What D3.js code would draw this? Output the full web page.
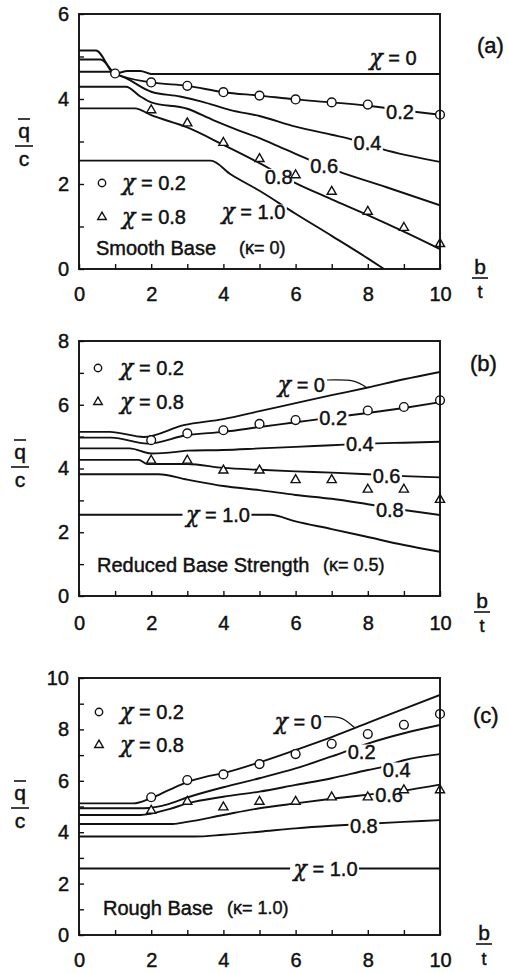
<!DOCTYPE html>
<html><head><meta charset="utf-8">
<script src="https://cdn.jsdelivr.net/npm/d3@7"></script>
<style>
body{margin:0;background:#fff}
svg text{font-family:"Liberation Sans",Arial,Helvetica,sans-serif;fill:#111;stroke:#111;stroke-width:0.45px;}
svg tspan.chi{font-family:"DejaVu Serif",serif;font-style:italic;}
</style>
</head><body><svg id="chart" width="508" height="973"></svg>
<script>
// ---------------- data ----------------
const xTickValues = [0,1,2,3,4,5,6,7,8,9,10];
const xTickLabels = [0,2,4,6,8,10];
const yTicksA = [0,1,2,3,4,5,6];
const yTicksB = [0,1,2,3,4,5,6,7,8];
const yTicksC = [0,1,2,3,4,5,6,7,8,9,10];
const chiNames = ["0","0.2","0.4","0.6","0.8","1.0"];

// (a) Smooth base (kappa = 0)
const aChi0  = [[0,5.14],[0.47,5.14],[1.0,4.6],[1.35,4.66],[1.7,4.66],[2.0,4.59],[10,4.59]];
const aChi02 = [[0,4.93],[0.6,4.93],[1.0,4.6],[2,4.39],[3,4.31],[4,4.16],[5,4.08],[6,3.99],[7,3.92],[8,3.84],[9,3.73],[10,3.63]];
const aChi04 = [[0,4.64],[0.9,4.64],[1.0,4.6],[1.3,4.49],[2,4.17],[2.8,4.06],[3.4,3.94],[4.2,3.74],[5,3.6],[6,3.35],[7,3.16],[7.6,3.04],[8.4,2.82],[10,2.52]];
const aChi06 = [[0,4.29],[1.3,4.29],[1.7,4.06],[2,3.92],[3,3.77],[3.7,3.51],[4.4,3.27],[5,3.08],[5.7,2.82],[7.2,2.29],[8.5,1.93],[10,1.5]];
const aChi08 = [[0,3.78],[1.55,3.78],[2,3.62],[3,3.33],[4,2.92],[5,2.49],[6,2.02],[7,1.64],[8,1.27],[9,0.88],[10,0.47]];
const aChi10 = [[0,2.55],[3.65,2.55],[4.2,2.23],[5,1.84],[6,1.3],[7,0.78],[8,0.25],[8.45,0]];
const aCircleX = [1,2,3,4,5,6,7,8,10];
const aCircleY = [4.6,4.39,4.31,4.16,4.08,3.99,3.92,3.87,3.63];
const aTriX = [2,3,4,5,6,7,8,9,10];
const aTriY = [3.74,3.43,2.97,2.59,2.21,1.82,1.35,0.97,0.59];

// (b) Reduced base strength (kappa = 0.5)
const bChi0  = [[0,5.15],[0.85,5.15],[1.8,4.99],[2.9,5.36],[4,5.55],[5,5.8],[6,6.05],[7,6.3],[8,6.54],[9,6.8],[10,7.03]];
const bChi02 = [[0,4.97],[0.9,4.97],[1.9,4.78],[3,5.05],[4,5.15],[5,5.3],[6,5.45],[7,5.6],[8,5.74],[9,5.9],[10,6.08]];
const bChi04 = [[0,4.63],[1.4,4.63],[2,4.47],[2.7,4.52],[3,4.56],[4,4.58],[5,4.63],[6,4.68],[7,4.73],[8,4.78],[9,4.81],[10,4.84]];
const bChi06 = [[0,4.27],[1.65,4.27],[1.9,4.14],[3,4.14],[4,4.02],[5,3.96],[6,3.91],[7,3.87],[8,3.82],[9,3.76],[10,3.72]];
const bChi08 = [[0,3.82],[2.2,3.82],[3,3.65],[4,3.45],[5,3.32],[6,3.17],[7,3.05],[8,2.88],[9,2.7],[10,2.54]];
const bChi10 = [[0,2.55],[5.3,2.55],[6,2.34],[7,2.1],[8,1.85],[9,1.6],[10,1.39]];
const bCircleX = [2,3,4,5,6,8,9,10];
const bCircleY = [4.89,5.1,5.2,5.4,5.52,5.82,5.93,6.14];
const bTriX = [2,3,4,5,6,7,8,9,10];
const bTriY = [4.25,4.25,3.94,3.94,3.64,3.64,3.34,3.34,3.02];

// (c) Rough base (kappa = 1.0)
const cChi0  = [[0,5.12],[1.5,5.12],[2,5.33],[2.5,5.65],[3,5.95],[3.5,6.15],[4,6.3],[5,6.72],[6,7.2],[7,7.7],[8,8.25],[9,8.8],[10,9.34]];
const cChi02 = [[0,4.93],[1.8,4.93],[2.5,5.1],[3,5.35],[4,5.75],[5,6.1],[6,6.48],[7,6.95],[8,7.45],[9,7.85],[10,8.17]];
const cChi04 = [[0,4.67],[1.7,4.67],[2.5,4.9],[3,5.12],[4,5.38],[5,5.58],[6,5.84],[7,6.1],[8,6.42],[8.45,6.55],[9,6.8],[10,7.04]];
const cChi06 = [[0,4.32],[2.6,4.32],[3,4.4],[4,4.67],[5,4.93],[6,5.12],[7,5.3],[8,5.46],[9,5.62],[10,5.85]];
const cChi08 = [[0,3.83],[3.2,3.83],[4,3.9],[5,4.02],[6,4.15],[7,4.25],[8,4.33],[9,4.4],[10,4.47]];
const cChi10 = [[0,2.59],[10,2.59]];
const cCircleX = [2,3,4,5,6,7,8,9,10];
const cCircleY = [5.36,6.03,6.25,6.65,7.04,7.44,7.82,8.18,8.6];
const cTriX = [2,3,4,5,6,7,8,9,10];
const cTriY = [4.84,5.19,4.97,5.19,5.19,5.36,5.36,5.64,5.64];

// ---------------- layout ----------------
const X0 = 79, X1 = 440;
const FS = 20;
const panels = [
  {letter:"(a)", top:14, bottom:269, ymax:6, yTicks:yTicksA,
   curves:[aChi0,aChi02,aChi04,aChi06,aChi08,aChi10],
   cx:aCircleX, cy:aCircleY, tx:aTriX, ty:aTriY,
   labels:[[0,8.7,4.96,false],[1,8.89,3.7,true],[2,7.99,2.96,true],[3,6.79,2.42,true],[4,5.53,2.18,true],[5,4.83,1.34,true]],
   leader:null, title:"Smooth Base", kappa:"(κ= 0)", titleX:96, kappaX:239, titleDY:234,
   legX:102, legTX:122, legDY1:169, legDY2:203, tickPad:18,
   letterX:477, letterY:45, qx:24, qbar:146, bx:480, bBase:274, bBar:278, tBase:298},
  {letter:"(b)", top:341, bottom:596, ymax:8, yTicks:yTicksB,
   curves:[bChi0,bChi02,bChi04,bChi06,bChi08,bChi10],
   cx:bCircleX, cy:bCircleY, tx:bTriX, ty:bTriY,
   labels:[[0,6.16,6.62,false],[1,7.04,5.58,true],[2,7.78,4.77,true],[3,8.52,3.77,true],[4,8.61,2.7,true],[5,3.85,2.55,true]],
   leader:[0,7.97], title:"Reduced Base Strength", kappa:"(κ= 0.5)", titleX:97, kappaX:323, titleDY:224,
   legX:98, legTX:120, legDY1:27, legDY2:61, tickPad:20,
   letterX:470, letterY:363, qx:20, qbar:467, bx:482, bBase:608, bBar:612, tBase:632},
  {letter:"(c)", top:678, bottom:935, ymax:10, yTicks:yTicksC,
   curves:[cChi0,cChi02,cChi04,cChi06,cChi08,cChi10],
   cx:cCircleX, cy:cCircleY, tx:cTriX, ty:cTriY,
   labels:[[0,6.07,8.3,false],[1,7.83,7.12,true],[2,8.8,6.42,true],[3,8.59,5.47,true],[4,7.89,4.23,true],[5,6.83,2.59,true]],
   leader:[0,7.65], title:"Rough Base", kappa:"(κ= 1.0)", titleX:103, kappaX:227, titleDY:230,
   legX:99, legTX:120, legDY1:34, legDY2:67, tickPad:18,
   letterX:473, letterY:715, qx:20, qbar:808, bx:484, bBase:940, bBar:944, tBase:965}
];

const svg = d3.select("#chart");
const x = d3.scaleLinear().domain([0,10]).range([X0,X1]);
const tri = d3.symbol().type(d3.symbolTriangle).size(36);

function interp(curve, xv){
  for(let i=1;i<curve.length;i++){
    if(xv<=curve[i][0]){
      const [x0,y0]=curve[i-1],[x1,y1]=curve[i];
      return y0+(y1-y0)*(xv-x0)/(x1-x0);
    }
  }
  return curve[curve.length-1][1];
}

// text with a chi glyph: "χ = value"
function chiText(sel, value){
  sel.append("tspan").attr("class","chi").attr("font-size",FS+2).text("χ");
  sel.append("tspan").text(" = "+value);
  return sel;
}

panels.forEach((p,pi)=>{
  const y = d3.scaleLinear().domain([0,p.ymax]).range([p.bottom,p.top]);
  const g = svg.append("g");
  const clipId = "clip"+pi;
  svg.append("clipPath").attr("id",clipId).append("rect")
    .attr("x",X0).attr("y",p.top).attr("width",X1-X0).attr("height",p.bottom-p.top);

  // axes (ticks inward)
  const xa = d3.axisBottom(x).tickValues(xTickValues).tickSizeInner(-5).tickSizeOuter(0)
    .tickPadding(p.tickPad).tickFormat(d=>xTickLabels.includes(d)?d:"");
  const gx = g.append("g").attr("transform",`translate(0,${p.bottom})`).call(xa);
  const ya = d3.axisLeft(y).tickValues(p.yTicks).tickSizeInner(-5).tickSizeOuter(0)
    .tickPadding(10).tickFormat(d=>d%2===0?d:"");
  const gy = g.append("g").attr("transform",`translate(${X0},0)`).call(ya);
  [gx,gy].forEach(a=>{
    a.select(".domain").remove();
    a.selectAll(".tick line").attr("stroke","#111").attr("stroke-width",1.4);
    a.selectAll(".tick text").attr("font-size",FS).attr("fill","#111")
      .style("font-family",'"Liberation Sans",Arial,sans-serif');
  });

  // curves
  const line = d3.line().x(d=>x(d[0])).y(d=>y(d[1])).curve(d3.curveMonotoneX);
  const cg = g.append("g").attr("clip-path",`url(#${clipId})`);
  p.curves.forEach(c=>{
    cg.append("path").attr("d",line(c)).attr("fill","none")
      .attr("stroke","#111").attr("stroke-width",1.9);
  });

  // inline labels
  p.labels.forEach(([ci,lx,ly,bg])=>{
    const t = g.append("text").attr("x",x(lx)).attr("y",y(ly)).attr("dy","0.36em")
      .attr("text-anchor","middle").attr("font-size",FS);
    if(ci===0 || ci===5) chiText(t, chiNames[ci]); else t.text(chiNames[ci]);
    const bb = t.node().getBBox();
    if(bg){
      g.insert("rect", function(){return t.node();})
        .attr("x",bb.x-1.5).attr("y",y(ly)-7.5).attr("width",bb.width+3).attr("height",15)
        .attr("fill","#fff");
    }
    if(ci===0 && p.leader){
      const sx = bb.x+bb.width+2, sy = y(ly)-5;
      const ex = x(p.leader[1]), ey = y(interp(p.curves[0],p.leader[1]));
      const pth = d3.path();
      pth.moveTo(sx,sy);
      pth.bezierCurveTo(sx+22,sy,ex-12,ey-9,ex,ey);
      g.append("path").attr("d",pth.toString()).attr("fill","none")
        .attr("stroke","#111").attr("stroke-width",1.2);
    }
  });

  // markers
  p.cx.forEach((xv,i)=>{
    g.append("circle").attr("cx",x(xv)).attr("cy",y(p.cy[i])).attr("r",4.4)
      .attr("fill","#fff").attr("stroke","#111").attr("stroke-width",1.4);
  });
  p.tx.forEach((xv,i)=>{
    g.append("path").attr("d",tri).attr("transform",`translate(${x(xv)},${y(p.ty[i])})`)
      .attr("fill","#fff").attr("stroke","#111").attr("stroke-width",1.4);
  });

  // frame
  g.append("rect").attr("x",X0).attr("y",p.top).attr("width",X1-X0).attr("height",p.bottom-p.top)
    .attr("fill","none").attr("stroke","#111").attr("stroke-width",1.9);

  // legend
  g.append("circle").attr("cx",p.legX).attr("cy",p.top+p.legDY1).attr("r",3.7)
    .attr("fill","#fff").attr("stroke","#111").attr("stroke-width",1.4);
  chiText(g.append("text").attr("x",p.legTX).attr("y",p.top+p.legDY1).attr("dy","0.36em")
    .attr("font-size",FS), "0.2");
  g.append("path").attr("d",d3.symbol().type(d3.symbolTriangle).size(32))
    .attr("transform",`translate(${p.legX},${p.top+p.legDY2})`)
    .attr("fill","#fff").attr("stroke","#111").attr("stroke-width",1.4);
  chiText(g.append("text").attr("x",p.legTX).attr("y",p.top+p.legDY2).attr("dy","0.36em")
    .attr("font-size",FS), "0.8");
  g.append("text").attr("x",p.titleX).attr("y",p.top+p.titleDY).attr("dy","0.36em")
    .attr("font-size",FS).text(p.title);
  g.append("text").attr("x",p.kappaX).attr("y",p.top+p.titleDY).attr("dy","0.36em")
    .attr("font-size",FS-2).text(p.kappa);

  // panel letter
  g.append("text").attr("x",p.letterX).attr("y",p.letterY).attr("dy","0.36em")
    .attr("font-size",22).text(p.letter);

  // y label q-bar / c
  g.append("text").attr("x",p.qx).attr("y",p.qbar-8).attr("text-anchor","middle")
    .attr("font-size",FS+1).text("q");
  g.append("line").attr("x1",p.qx-6).attr("x2",p.qx+6).attr("y1",p.qbar-27).attr("y2",p.qbar-27)
    .attr("stroke","#111").attr("stroke-width",1.6);
  g.append("line").attr("x1",p.qx-9).attr("x2",p.qx+9).attr("y1",p.qbar).attr("y2",p.qbar)
    .attr("stroke","#111").attr("stroke-width",1.6);
  g.append("text").attr("x",p.qx).attr("y",p.qbar+20).attr("text-anchor","middle")
    .attr("font-size",FS+1).text("c");

  // x label b / t
  g.append("text").attr("x",p.bx).attr("y",p.bBase).attr("text-anchor","middle")
    .attr("font-size",FS+1).text("b");
  g.append("line").attr("x1",p.bx-8).attr("x2",p.bx+8).attr("y1",p.bBar).attr("y2",p.bBar)
    .attr("stroke","#111").attr("stroke-width",1.6);
  g.append("text").attr("x",p.bx).attr("y",p.tBase).attr("text-anchor","middle")
    .attr("font-size",FS-2).text("t");
});
</script>
</body></html>
